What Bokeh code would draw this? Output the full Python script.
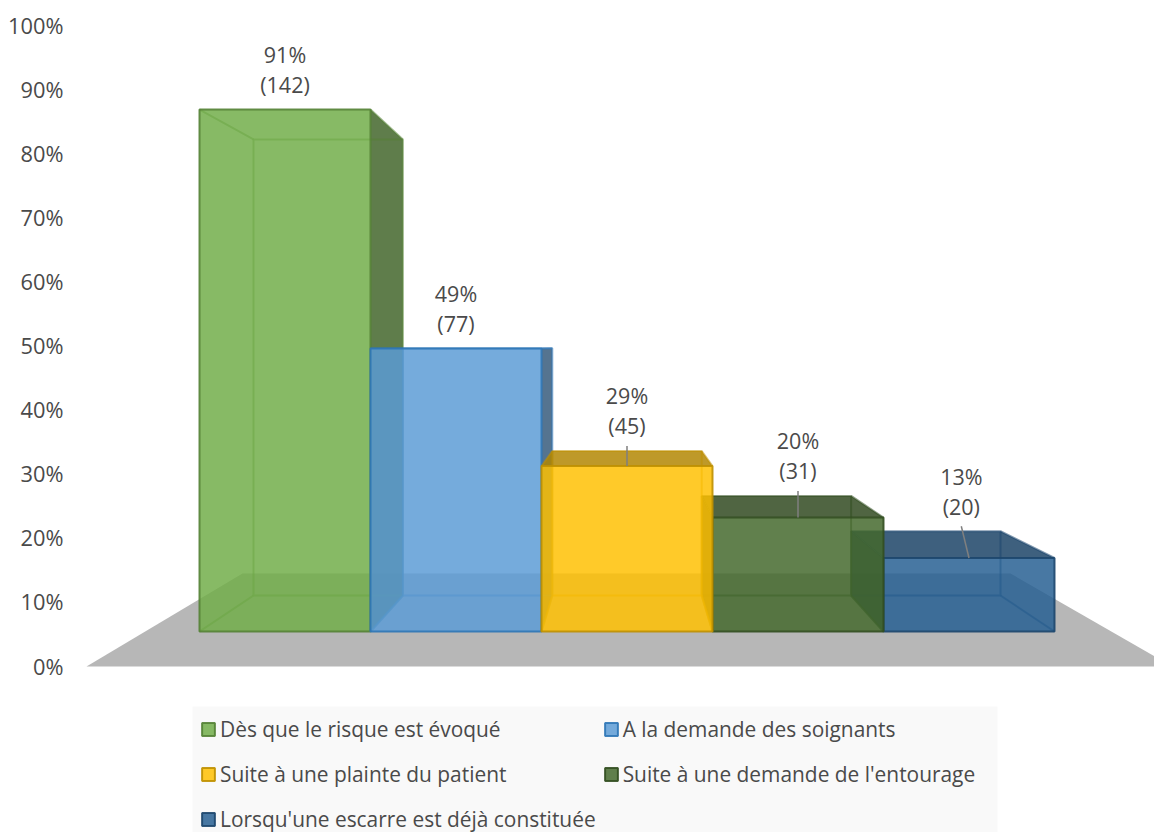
from bokeh.embed import file_html
from bokeh.resources import INLINE
from bokeh.plotting import figure
from bokeh.core.properties import value
from bokeh.models import Range1d, FixedTicker, PrintfTickFormatter, Legend, LegendItem

# ---- data ----
categories = ["Dès que le risque est évoqué", "A la demande des soignants",
              "Suite à une plainte du patient", "Suite à une demande de l'entourage",
              "Lorsqu'une escarre est déjà constituée"]
percent_labels = ["91%", "49%", "29%", "20%", "13%"]
counts = [142, 77, 45, 31, 20]
respondents = 156
y_ticks = [0, 10, 20, 30, 40, 50, 60, 70, 80, 90, 100]

# ---- styles ----
fills = ["#70AD47", "#5B9BD5", "#FFC000", "#43682B", "#255E91"]
edges = ["#548235", "#2E75B6", "#BF9000", "#324E20", "#1C466D"]
FONT = "Open Sans"
TXT = "#4a4a4a"
FACE_ALPHA = 0.84

# ---- page geometry -> scales ----
W, H = 1154, 832
LEFT = 64
PX_PER_PCT = 6.41
ZERO_PY = 665.5
SLOT = 171.0
X0_PX = 199.0

def cx(px):
    return (px - X0_PX) / SLOT

def cy(py):
    return (ZERO_PY - py) / PX_PER_PCT

# perspective: depth 0 = front plane of the bars, depth 1 = back plane
BACK_X0, BACK_SLOT = cx(253), 149.4 / SLOT
FRONT_BASE, FRONT_SCALE = cy(631), 5.734 / PX_PER_PCT
BACK_BASE, BACK_SCALE = cy(595), 5.01 / PX_PER_PCT

def fx(i):
    return float(i)

def bx(i):
    return BACK_X0 + i * BACK_SLOT

def fy(v):
    return FRONT_BASE + v * FRONT_SCALE

def by(v):
    return BACK_BASE + v * BACK_SCALE

def shade(hexcol, f):
    r, g, b = int(hexcol[1:3], 16), int(hexcol[3:5], 16), int(hexcol[5:7], 16)
    return "#%02x%02x%02x" % (int(r * f), int(g * f), int(b * f))

p = figure(width=W, height=H, output_backend="svg", toolbar_location=None,
           x_range=Range1d(cx(LEFT), cx(W)),
           y_range=Range1d(cy(H), cy(0)),
           min_border_left=LEFT, min_border_right=0, min_border_top=0, min_border_bottom=0,
           outline_line_color=None, background_fill_color="white", border_fill_color="white")
p.xaxis.visible = False
p.xgrid.visible = False
p.ygrid.visible = False
p.yaxis.ticker = FixedTicker(ticks=y_ticks)
p.yaxis.formatter = PrintfTickFormatter(format="%d%%")
p.yaxis.axis_line_color = None
p.yaxis.major_tick_line_color = None
p.yaxis.minor_tick_line_color = None
p.yaxis.major_tick_out = 0
p.yaxis.major_tick_in = 0
p.yaxis.major_label_standoff = 1
p.yaxis.major_label_text_font = FONT
p.yaxis.major_label_text_font_size = "21.8px"
p.yaxis.major_label_text_color = TXT

# floor
p.patch([cx(86), cx(242), cx(1010), cx(1172)], [cy(666), cy(573), cy(573), cy(666)],
        fill_color="#B7B7B7", line_color=None)

# legend backdrop
p.quad(left=cx(192), right=cx(997), bottom=cy(833), top=cy(706),
       fill_color="#F9F9F9", line_color=None)

values = [100.0 * n / respondents for n in counts]

# painter's order: outer bars first, towards the vanishing point
front_renderers = {}
for i in [0, 1, 4, 3, 2]:
    v = values[i]
    fill, edge = fills[i], edges[i]
    # faces sticking out of the front rectangle are seen from outside: darker
    if bx(i + 1) > fx(i + 1):
        p.patch([fx(i + 1), bx(i + 1), bx(i + 1), fx(i + 1)],
                [fy(v), by(v), by(0), fy(0)],
                fill_color=shade(fill, 0.58), fill_alpha=FACE_ALPHA, line_color=None)
    if bx(i) < fx(i):
        p.patch([fx(i), bx(i), bx(i), fx(i)],
                [fy(v), by(v), by(0), fy(0)],
                fill_color=shade(fill, 0.58), fill_alpha=FACE_ALPHA, line_color=None)
    if by(v) > fy(v):
        p.patch([fx(i), bx(i), bx(i + 1), fx(i + 1)],
                [fy(v), by(v), by(v), fy(v)],
                fill_color=shade(fill, 0.7), fill_alpha=FACE_ALPHA, line_color=None)
    # back rectangle and connecting edges
    la = 0.55
    p.line([bx(i), bx(i + 1), bx(i + 1), bx(i), bx(i)],
           [by(0), by(0), by(v), by(v), by(0)], line_color=edge, line_alpha=la, line_width=2)
    for a, b in [(fx(i), bx(i)), (fx(i + 1), bx(i + 1))]:
        p.line([a, b], [fy(0), by(0)], line_color=edge, line_alpha=la, line_width=2)
        p.line([a, b], [fy(v), by(v)], line_color=edge, line_alpha=la, line_width=2)
    # front face
    front_renderers[i] = p.patch([fx(i), fx(i + 1), fx(i + 1), fx(i)],
                                 [fy(0), fy(0), fy(v), fy(v)],
                                 fill_color=fill, fill_alpha=FACE_ALPHA,
                                 line_color=edge, line_alpha=0.9, line_width=2)

# data labels and leader lines
for i, (v, n, lab) in enumerate(zip(values, counts, percent_labels)):
    top = max(by(v), fy(v))
    shift = -0.045 if i == 4 else 0.0
    x = i + 0.5 + shift
    y2 = top + 25 / PX_PER_PCT
    y1 = y2 + 30 / PX_PER_PCT
    if by(v) - fy(v) > 1:
        p.line([x, i + 0.5], [y2 - 20 / PX_PER_PCT, fy(v)], line_color="#7F7F7F", line_width=1.5)
    p.text([x], [y1], text=[lab], text_align="center", text_baseline="middle",
           text_font=value(FONT), text_font_size="21.5px", text_color=TXT)
    p.text([x], [y2], text=[f"({n})"], text_align="center", text_baseline="middle",
           text_font=value(FONT), text_font_size="21.5px", text_color=TXT)

legend = Legend(items=[LegendItem(label=value(c), renderers=[front_renderers[i]])
                       for i, c in enumerate(categories)],
                ncols=2, location=(136, -6), orientation="horizontal",
                background_fill_alpha=0, border_line_color=None,
                label_text_font=FONT, label_text_font_size="20.9px", label_text_color=TXT,
                glyph_width=16, glyph_height=16, label_height=38, padding=0, margin=0,
                label_standoff=4, spacing=7, click_policy="none")
p.add_layout(legend, "center")

open("out.html", "w").write(file_html(p, INLINE))
